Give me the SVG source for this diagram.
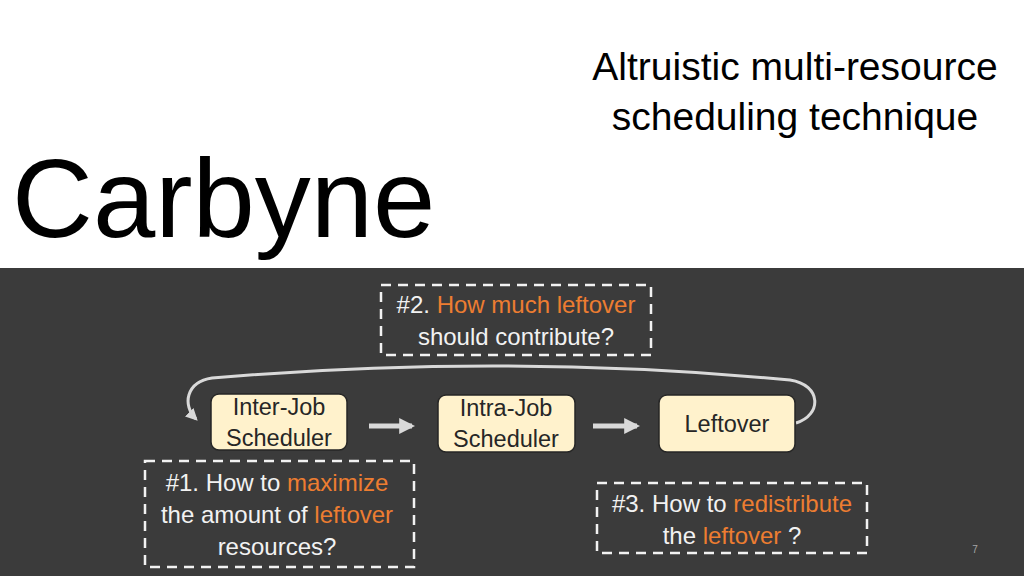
<svg xmlns="http://www.w3.org/2000/svg" width="1024" height="576" viewBox="0 0 1024 576">
<defs>
<style>
.t{font-family:"Liberation Sans","Noto Sans",sans-serif;}
.w{fill:#f2f2f2;font-size:24px;}
.o{fill:#ED7D31;}
.dash{fill:none;stroke:#f2f2f2;stroke-width:2.5;stroke-dasharray:10 7;}
.node{fill:#fff2cc;stroke:#262626;stroke-width:1.5;}
.nt{fill:#262626;font-size:23.5px;}
.arr{stroke:#d9d9d9;stroke-width:5;fill:none;}
</style>
<marker id="ah" viewBox="0 0 10 10" refX="8" refY="5" markerWidth="3.2" markerHeight="3.2" orient="auto">
<path d="M0,0 L10,5 L0,10 z" fill="#d9d9d9"/>
</marker>
<marker id="ah2" viewBox="0 0 10 10" refX="8" refY="5" markerWidth="4" markerHeight="4" orient="auto">
<path d="M0,0 L10,5 L0,10 z" fill="#d9d9d9"/>
</marker>
</defs>
<rect x="0" y="0" width="1024" height="268" fill="#ffffff"/>
<rect x="0" y="268" width="1024" height="308" fill="#3b3b3b"/>
<g id="title">
<text class="t" x="12" y="237" font-size="112" fill="#000">Carbyne</text>
<text class="t" x="795" y="80" font-size="39" fill="#000" text-anchor="middle">Altruistic multi-resource</text>
<text class="t" x="795" y="130" font-size="39" fill="#000" text-anchor="middle">scheduling technique</text>
</g>
<g id="connectors">
<path class="arr" d="M369 426 H412" marker-end="url(#ah)"/>
<path class="arr" d="M593 426 H637" marker-end="url(#ah)"/>
<path d="M796 423 C822 415, 822 385, 790 380 C600 362, 400 362, 212 378 C186 382, 182 405, 196 419" fill="none" stroke="#d9d9d9" stroke-width="3" marker-end="url(#ah2)"/>
</g>
<g id="inter-job">
<rect class="node" x="211" y="394" width="136" height="56" rx="8"/>
<text class="t nt" x="279" y="415" text-anchor="middle">Inter-Job</text>
<text class="t nt" x="279" y="446" text-anchor="middle">Scheduler</text>
</g>
<g id="intra-job">
<rect class="node" x="438" y="395" width="137" height="57" rx="8"/>
<text class="t nt" x="506" y="416" text-anchor="middle">Intra-Job</text>
<text class="t nt" x="506" y="447" text-anchor="middle">Scheduler</text>
</g>
<g id="leftover">
<rect class="node" x="659" y="395" width="136" height="57" rx="8"/>
<text class="t nt" x="727" y="432" text-anchor="middle">Leftover</text>
</g>
<g id="q2">
<rect class="dash" x="381" y="285" width="270" height="70"/>
<text class="t w" x="516" y="313" text-anchor="middle">#2. <tspan class="o">How much leftover</tspan></text>
<text class="t w" x="516" y="345" text-anchor="middle">should contribute?</text>
</g>
<g id="q1">
<rect class="dash" x="145" y="461" width="269" height="106"/>
<text class="t w" x="277" y="491" text-anchor="middle">#1. How to <tspan class="o">maximize</tspan></text>
<text class="t w" x="277" y="523" text-anchor="middle">the amount of <tspan class="o">leftover</tspan></text>
<text class="t w" x="277" y="555" text-anchor="middle">resources?</text>
</g>
<g id="q3">
<rect class="dash" x="597" y="483" width="270" height="70"/>
<text class="t w" x="732" y="512" text-anchor="middle">#3. How to <tspan class="o">redistribute</tspan></text>
<text class="t w" x="732" y="544" text-anchor="middle">the <tspan class="o">leftover</tspan> ?</text>
</g>
<text class="t" x="975" y="553" font-size="10" fill="#a6a6a6" text-anchor="middle">7</text>
</svg>
